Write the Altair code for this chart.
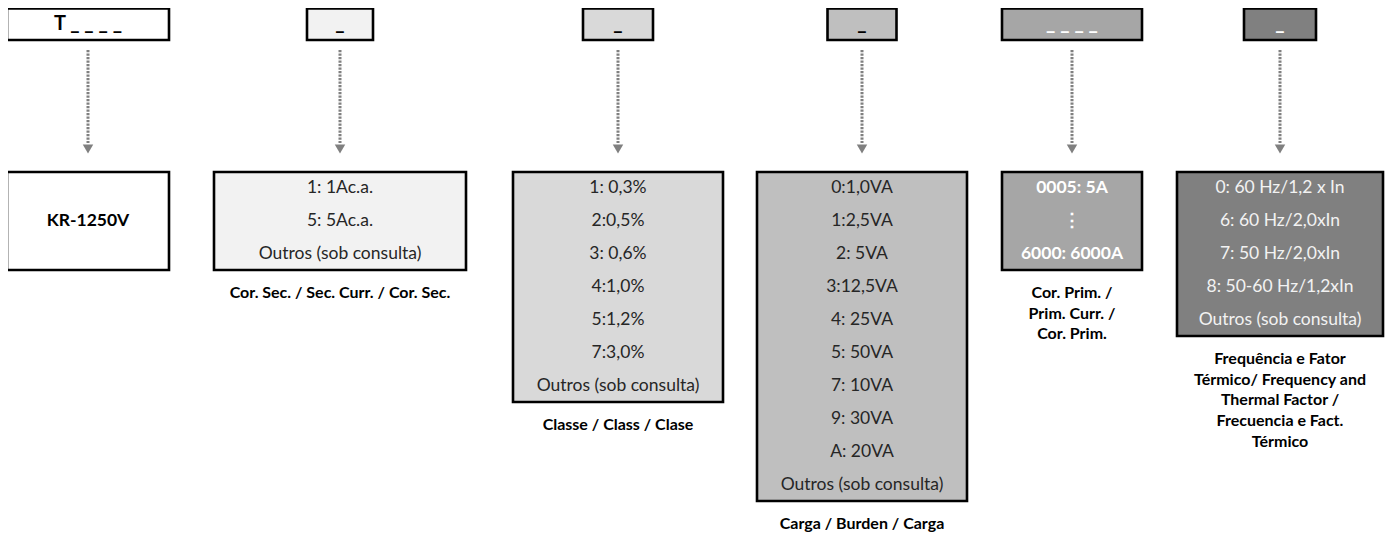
import altair as alt
import pandas as pd

# ---- content ----
codes = ["T _ _ _ _", "_", "_", "_", "_ _ _ _", "_"]
fills = ["#ffffff", "#f2f2f2", "#d9d9d9", "#bfbfbf", "#a6a6a6", "#808080"]
code_colors = ["#000000", "#000000", "#000000", "#000000", "#ffffff", "#ffffff"]
text_colors = ["#000000", "#262626", "#262626", "#262626", "#ffffff", "#f2f2f2"]
bold_items = [True, False, False, False, True, False]

options = [
    ["KR-1250V"],
    ["1: 1Ac.a.", "5: 5Ac.a.", "Outros (sob consulta)"],
    ["1: 0,3%", "2:0,5%", "3: 0,6%", "4:1,0%", "5:1,2%", "7:3,0%", "Outros (sob consulta)"],
    ["0:1,0VA", "1:2,5VA", "2: 5VA", "3:12,5VA", "4: 25VA", "5: 50VA", "7: 10VA",
     "9: 30VA", "A: 20VA", "Outros (sob consulta)"],
    ["0005: 5A", "\u22ee", "6000: 6000A"],
    ["0: 60 Hz/1,2 x In", "6: 60 Hz/2,0xIn", "7: 50 Hz/2,0xIn", "8: 50-60 Hz/1,2xIn",
     "Outros (sob consulta)"],
]
captions = [
    [],
    ["Cor. Sec. / Sec. Curr. / Cor. Sec."],
    ["Classe / Class / Clase"],
    ["Carga / Burden / Carga"],
    ["Cor. Prim. /", "Prim. Curr. /", "Cor. Prim."],
    ["Frequência e Fator", "Térmico/ Frequency and", "Thermal Factor /",
     "Frecuencia e Fact.", "Térmico"],
]

# ---- layout (page pixels) ----
centers = [88, 340, 618, 862, 1072, 1280]
top_w = [162, 66, 70, 69, 140, 72]
bot_w = [162, 252, 210, 210, 140, 206]
TOP_Y1, TOP_Y2 = 8.5, 40
BOT_Y1 = 172
ROW0, ROW_STEP, PAD = 188, 33, 16
CAP_OFF, CAP_STEP = 23, 20.7
ARROW_Y1, ARROW_Y2, HEAD_Y = 50, 143, 149
FONT = "Lato"
BODY, CAP, CODE = 17.5, 16, 20

rects, texts, caps, arrows = [], [], [], []
for i, c in enumerate(centers):
    rects.append(dict(x1=c - top_w[i] / 2, x2=c + top_w[i] / 2, y1=TOP_Y1, y2=TOP_Y2, fill=fills[i]))
    texts.append(dict(x=c, y=24, t=codes[i], col=code_colors[i], bold=True, kind="code"))
    arrows.append(dict(x=c, y1=ARROW_Y1, y2=ARROW_Y2, yh=HEAD_Y))
    opts = options[i]
    if i == 0:
        bottom = 270
        texts.append(dict(x=c, y=(BOT_Y1 + bottom) / 2, t=opts[0], col=text_colors[i], bold=True, kind="body"))
    else:
        bottom = ROW0 + (len(opts) - 1) * ROW_STEP + PAD
        for k, t in enumerate(opts):
            texts.append(dict(x=c, y=ROW0 + k * ROW_STEP, t=t, col=text_colors[i],
                              bold=bold_items[i], kind="body"))
    rects.append(dict(x1=c - bot_w[i] / 2, x2=c + bot_w[i] / 2, y1=BOT_Y1, y2=bottom, fill=fills[i]))
    for k, t in enumerate(captions[i]):
        caps.append(dict(x=c, y=bottom + CAP_OFF + k * CAP_STEP, t=t))

rect_df = pd.DataFrame(rects)
text_df = pd.DataFrame(texts)
cap_df = pd.DataFrame(caps)
arrow_df = pd.DataFrame(arrows)

W, H = 1378, 525
xs = alt.Scale(domain=[8, 8 + W], nice=False, zero=False)
ys = alt.Scale(domain=[8, 8 + H], nice=False, zero=False, reverse=True)
X = lambda f: alt.X(f, type="quantitative", scale=xs, axis=None)
Y = lambda f: alt.Y(f, type="quantitative", scale=ys, axis=None)

boxes = alt.Chart(rect_df).mark_rect(stroke="#000000", strokeWidth=2.6).encode(
    x=X("x1"), x2="x2", y=Y("y1"), y2="y2",
    fill=alt.Fill("fill:N", scale=None),
)

lines = alt.Chart(arrow_df).mark_rule(color="#808080", strokeWidth=3, strokeDash=[2.2, 1.3]).encode(
    x=X("x"), y=Y("y1"), y2="y2",
)
heads = alt.Chart(arrow_df).mark_point(shape="triangle-down", filled=True, color="#808080",
                                      size=110, opacity=1).encode(
    x=X("x"), y=Y("yh"),
)

def text_layer(df, bold, size):
    return alt.Chart(df).mark_text(font=FONT, fontSize=size, fontWeight="bold" if bold else "normal",
                                   baseline="middle", align="center").encode(
        x=X("x"), y=Y("y"), text="t:N", color=alt.Color("col:N", scale=None),
    )

code_txt = text_layer(text_df[text_df["kind"] == "code"], True, CODE)
body = text_df[text_df["kind"] == "body"]
bold_txt = text_layer(body[body["bold"]], True, BODY)
norm_txt = text_layer(body[~body["bold"]], False, BODY)

cap_txt = alt.Chart(cap_df).mark_text(font=FONT, fontSize=CAP, fontWeight="bold",
                                      baseline="middle", align="center", color="#000000").encode(
    x=X("x"), y=Y("y"), text="t:N",
)

chart = alt.layer(boxes, lines, heads, code_txt, bold_txt, norm_txt, cap_txt).properties(
    width=W, height=H, padding=0, autosize="none",
).configure_view(strokeWidth=0)

chart.save("out.html", embed_options={"renderer": "svg", "actions": False})
